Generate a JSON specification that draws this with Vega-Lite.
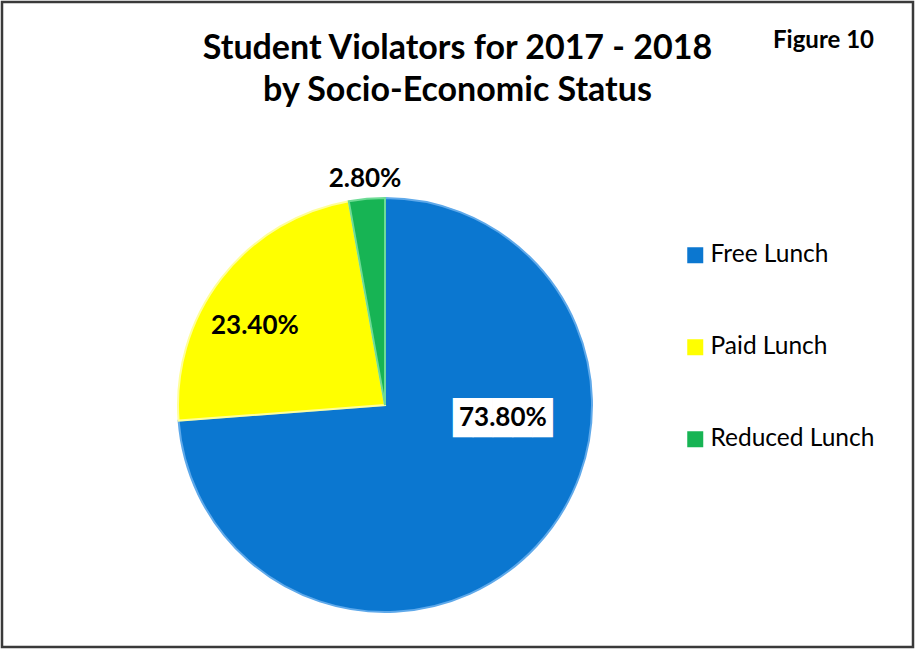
{
  "$schema": "https://vega.github.io/schema/vega-lite/v6.json",
  "width": 911,
  "height": 645,
  "autosize": {"type": "none"},
  "padding": {"left": 2, "top": 2, "right": 2, "bottom": 2},
  "background": "white",
  "config": {"view": {"stroke": null}, "font": "Lato"},
  "title": {
    "text": ["Student Violators for 2017 - 2018", "by Socio-Economic Status"],
    "orient": "top",
    "anchor": "middle",
    "frame": "group",
    "offset": -107,
    "fontSize": 34,
    "fontWeight": "bold",
    "font": "Lato",
    "lineHeight": 42,
    "color": "black"
  },
  "layer": [
    {
      "data": {"values": [{"frame": "border"}]},
      "mark": {"type": "rect", "fill": null, "stroke": "#3a3a3a", "strokeWidth": 2.5},
      "encoding": {}
    },
    {
      "data": {
        "values": [
          {"category": "Free Lunch", "share": 0.738},
          {"category": "Paid Lunch", "share": 0.234},
          {"category": "Reduced Lunch", "share": 0.028}
        ]
      },
      "encoding": {
        "theta": {"field": "share", "type": "quantitative", "stack": true},
        "order": {"field": "category", "type": "nominal", "sort": "ascending"},
        "color": {
          "field": "category",
          "type": "nominal",
          "scale": {"domain": ["Free Lunch", "Paid Lunch", "Reduced Lunch"], "range": ["#0B77D0", "#FFFF00", "#17B454"]},
          "legend": {
            "orient": "none",
            "legendX": 681,
            "legendY": 27,
            "title": "Figure 10",
            "titleOrient": "top",
            "titleAnchor": "end",
            "titlePadding": 190,
            "titleFontSize": 24,
            "titleFontWeight": "bold",
            "titleFont": "Lato",
            "titleColor": "black",
            "symbolType": "square",
            "symbolSize": 256,
            "symbolStrokeWidth": 0,
            "labelFontSize": 24.5,
            "labelFont": "Lato",
            "labelColor": "black",
            "labelOffset": 3,
            "labelLimit": 400,
            "rowPadding": 67
          }
        }
      },
      "layer": [
        {
          "mark": {"type": "arc", "radius": 207, "x": 383, "y": 403, "strokeWidth": 2},
          "encoding": {
            "stroke": {
              "field": "category",
              "type": "nominal",
              "scale": {"domain": ["Free Lunch", "Paid Lunch", "Reduced Lunch"], "range": ["#5FA9EA", "#FFFF9A", "#6EDB95"]},
              "legend": null
            }
          }
        },
        {
          "mark": {"type": "text", "radius": 124, "x": 383, "y": 403, "dx": 27, "dy": -70, "font": "DejaVu Sans Mono", "fontSize": 33, "baseline": "middle", "align": "center"},
          "encoding": {
            "color": {"value": "white"},
            "text": {"condition": {"test": "datum.category === 'Free Lunch'", "value": "█████"}, "value": ""}
          }
        },
        {
          "mark": {"type": "text", "radius": 124, "x": 383, "y": 403, "dx": 27, "dy": -71, "fontSize": 26, "fontWeight": "bold", "baseline": "middle", "align": "center"},
          "encoding": {
            "color": {"value": "black"},
            "text": {"condition": {"test": "datum.category === 'Free Lunch'", "field": "share", "type": "quantitative", "format": ".2%"}, "value": ""}
          }
        },
        {
          "mark": {"type": "text", "radius": 152, "x": 383, "y": 403, "dx": -10, "dy": 14, "fontSize": 26, "fontWeight": "bold", "baseline": "middle", "align": "center"},
          "encoding": {
            "color": {"value": "black"},
            "text": {"condition": {"test": "datum.category === 'Paid Lunch'", "field": "share", "type": "quantitative", "format": ".2%"}, "value": ""}
          }
        },
        {
          "mark": {"type": "text", "radius": 227, "x": 383, "y": 403, "fontSize": 26, "fontWeight": "bold", "baseline": "middle", "align": "center"},
          "encoding": {
            "color": {"value": "black"},
            "text": {"condition": {"test": "datum.category === 'Reduced Lunch'", "field": "share", "type": "quantitative", "format": ".2%"}, "value": ""}
          }
        }
      ]
    }
  ]
}
